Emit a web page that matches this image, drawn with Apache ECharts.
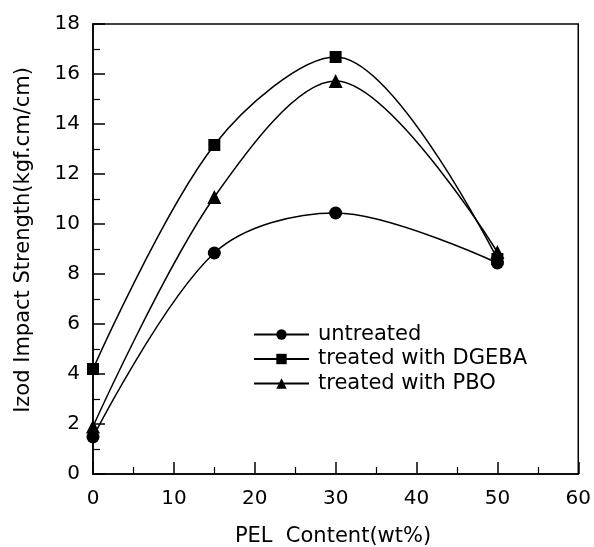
<!DOCTYPE html>
<html>
<head>
<meta charset="utf-8">
<script src="https://cdn.jsdelivr.net/npm/echarts@6/dist/echarts.min.js"></script>
<style>
html,body{margin:0;padding:0;background:#fff;}
#c{width:594px;height:547px;}
</style>
</head>
<body>
<div id="c"></div>
<script>
var xValues = [0, 15, 30, 50];
var yUntreated = [1.48, 8.84, 10.44, 8.44];
var yDGEBA = [4.2, 13.16, 16.68, 8.6];
var yPBO = [1.9, 11.08, 15.72, 8.88];
var xTicks = [0, 10, 20, 30, 40, 50, 60];
var yTicks = [0, 2, 4, 6, 8, 10, 12, 14, 16, 18];
var seriesNames = ['untreated', 'treated with DGEBA', 'treated with PBO'];
var xTitle = 'PEL  Content(wt%)';
var yTitle = 'Izod Impact Strength(kgf.cm/cm)';

function pairs(xs, ys) { return xs.map(function (x, i) { return [x, ys[i]]; }); }

var FONT = 'DejaVu Sans';
var chart = echarts.init(document.getElementById('c'));
function mkSeries(name, ys, symbol, size) {
  return {
    name: name, type: 'line', smooth: 0.33, data: pairs(xValues, ys),
    symbol: symbol, symbolSize: size,
    lineStyle: { color: '#000', width: 1.5 },
    itemStyle: { color: '#000' }
  };
}
chart.setOption({
  animation: false,
  backgroundColor: '#fff',
  grid: { left: 93, right: 13, top: 24, bottom: 73, show: true, borderColor: '#000', borderWidth: 1.5, backgroundColor: 'transparent' },
  xAxis: {
    type: 'value', min: xTicks[0], max: xTicks[xTicks.length - 1], interval: 10,
    axisLine: { show: true, lineStyle: { color: '#000', width: 1.5 } },
    axisTick: { show: true, inside: true, length: 12, lineStyle: { color: '#000', width: 1.5 } },
    minorTick: { show: true, splitNumber: 2, length: 7, lineStyle: { color: '#000', width: 1.2 } },
    splitLine: { show: false },
    axisLabel: { color: '#000', fontFamily: FONT, fontSize: 20, margin: 15 }
  },
  yAxis: {
    type: 'value', min: yTicks[0], max: yTicks[yTicks.length - 1], interval: 2,
    axisLine: { show: true, lineStyle: { color: '#000', width: 1.5 } },
    axisTick: { show: true, inside: true, length: 12, lineStyle: { color: '#000', width: 1.5 } },
    minorTick: { show: true, splitNumber: 2, length: 7, lineStyle: { color: '#000', width: 1.2 } },
    splitLine: { show: false },
    axisLabel: { color: '#000', fontFamily: FONT, fontSize: 20, margin: 13 }
  },
  legend: {
    orient: 'vertical', left: 248, top: 319, itemWidth: 55, itemHeight: 13, itemGap: 3.5,
    data: seriesNames,
    textStyle: { color: '#000', fontFamily: FONT, fontSize: 21, lineHeight: 21, padding: [0, 0, 0, 4] }
  },
  graphic: [
    { type: 'text', x: 24, y: 240, rotation: Math.PI / 2,
      style: { text: yTitle, fill: '#000', font: '21px "DejaVu Sans"', textAlign: 'center', textVerticalAlign: 'middle' } },
    { type: 'text', x: 333, y: 537,
      style: { text: xTitle, fill: '#000', font: '21px "DejaVu Sans"', textAlign: 'center', textVerticalAlign: 'middle' } }
  ],
  series: [
    mkSeries(seriesNames[0], yUntreated, 'circle', 13),
    mkSeries(seriesNames[1], yDGEBA, 'rect', 12),
    mkSeries(seriesNames[2], yPBO, 'triangle', 14)
  ]
});
</script>
</body>
</html>
